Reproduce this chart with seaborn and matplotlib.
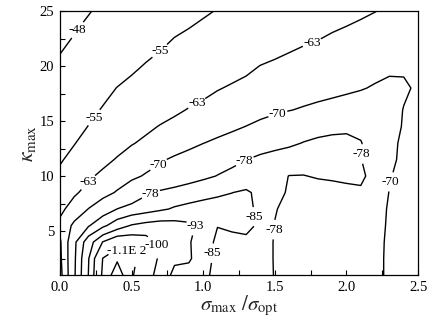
import numpy as np
import pandas as pd
import matplotlib
matplotlib.use("Agg")
import matplotlib.pyplot as plt
import seaborn as sns

# ---- data ----
sigma_ratio = [0.0, 0.1, 0.2, 0.3, 0.4, 0.5, 0.6, 0.7, 0.8, 0.9, 1.0, 1.1, 1.2,
               1.3, 1.4, 1.5, 1.6, 1.7, 1.8, 1.9, 2.0, 2.1, 2.2, 2.3, 2.4, 2.5]
kappa_max = [1, 2.5, 4, 5.5, 7, 8.5, 10, 11.5, 13, 14.5, 16, 18, 20, 22.5, 25]

k_01_0 = [-60.5, -77.0, -93.3, -111.6, -121.0, -111.0, -104.0, -96.5, -91.6, -88.7, -85.9, -83.9, -82.4,
          -80.9, -79.4, -77.85, -76.9, -75.8, -74.8, -73.7, -72.7, -71.7, -70.6, -69.6, -68.5, -67.5]
k_02_5 = [-61.5, -76.7, -92.7, -110.3, -116.0, -113.0, -104.0, -99.0, -94.0, -94.5, -86.5, -84.1, -82.5,
          -81.0, -79.4, -77.8, -76.8, -75.8, -74.8, -73.7, -72.7, -71.7, -70.6, -69.6, -68.6, -67.6]
k_04_0 = [-62.0, -76.4, -89.3, -100.3, -106.0, -105.0, -103.0, -98.9, -96.4, -94.0, -87.0, -84.2, -82.6,
          -82.5, -79.4, -77.8, -76.8, -75.8, -74.8, -73.8, -72.8, -71.7, -70.7, -69.6, -68.6, -67.6]
k_05_5 = [-64.5, -71.5, -77.4, -83.4, -89.1, -93.6, -95.5, -96.5, -96.0, -94.5, -91.0, -85.1, -86.5,
          -88.0, -82.9, -77.9, -77.0, -75.9, -74.9, -73.9, -72.9, -71.8, -70.8, -69.7, -68.7, -67.8]
k_07_0 = [-61.5, -65.7, -70.2, -74.1, -78.1, -80.0, -81.9, -83.9, -85.8, -87.0, -88.0, -88.5, -88.0,
          -87.0, -83.1, -78.2, -77.1, -76.0, -75.0, -73.9, -72.9, -71.9, -70.8, -69.8, -68.8, -67.9]
k_08_5 = [-59.0, -62.1, -65.0, -67.8, -70.6, -73.8, -77.0, -78.9, -80.1, -81.3, -82.5, -83.7, -84.9,
          -86.0, -83.2, -79.6, -77.4, -76.3, -75.5, -75.5, -75.5, -76.5, -72.0, -69.9, -68.9, -68.0]
k_10_0 = [-56.0, -59.0, -62.0, -64.4, -66.6, -68.7, -70.6, -72.1, -73.6, -75.2, -76.7, -78.2, -79.5,
          -80.5, -80.5, -79.5, -77.9, -77.8, -78.5, -79.0, -80.0, -80.0, -74.2, -70.2, -69.1, -68.2]
k_11_5 = [-54.5, -56.4, -58.8, -61.2, -63.5, -65.5, -67.4, -69.3, -70.9, -72.3, -73.7, -75.1, -76.5,
          -77.9, -79.5, -80.5, -81.0, -81.0, -81.0, -81.0, -80.5, -78.2, -74.6, -70.8, -69.2, -68.4]
k_13_0 = [-53.4, -54.8, -56.7, -58.7, -60.6, -62.6, -64.1, -65.6, -67.0, -68.4, -69.9, -71.1, -72.3,
          -73.5, -74.7, -75.9, -77.0, -78.2, -79.0, -79.3, -79.3, -78.3, -74.9, -71.0, -69.3, -68.5]
k_14_5 = [-52.4, -53.7, -55.1, -56.8, -58.4, -60.1, -61.8, -63.3, -64.4, -65.6, -66.7, -67.8, -68.9,
          -70.1, -71.5, -73.0, -74.2, -75.2, -76.0, -76.7, -77.0, -76.5, -74.5, -72.0, -69.6, -68.8]
k_16_0 = [-51.4, -52.7, -54.0, -55.3, -56.6, -58.0, -59.4, -60.7, -62.1, -63.3, -64.2, -65.2, -66.1,
          -67.0, -68.0, -68.9, -69.8, -70.6, -71.4, -72.0, -72.5, -72.5, -72.0, -71.2, -69.9, -69.2]
k_18_0 = [-50.0, -51.3, -52.5, -53.8, -55.1, -56.1, -57.2, -58.3, -59.4, -60.5, -61.6, -62.7, -63.5,
          -64.2, -64.9, -65.6, -66.3, -67.0, -67.6, -68.3, -69.0, -69.7, -70.4, -70.8, -70.4, -69.6]
k_20_0 = [-48.6, -49.7, -50.8, -52.0, -53.1, -54.2, -55.3, -56.2, -57.2, -58.2, -59.1, -60.1, -61.1,
          -62.0, -63.1, -63.8, -64.6, -65.4, -66.1, -66.8, -67.4, -68.0, -68.5, -69.3, -69.6, -69.3]
k_22_5 = [-47.2, -48.2, -49.1, -50.1, -51.1, -52.1, -53.0, -54.0, -55.1, -55.8, -56.6, -57.4, -58.1,
          -58.9, -59.7, -60.5, -61.3, -62.1, -62.8, -63.6, -64.2, -64.8, -65.4, -66.0, -66.5, -67.0]
k_25_0 = [-46.2, -47.0, -47.8, -48.7, -49.5, -50.3, -51.1, -52.0, -52.8, -53.6, -54.4, -55.2, -55.9,
          -56.6, -57.3, -58.0, -58.7, -59.4, -60.1, -60.8, -61.5, -62.2, -62.9, -63.6, -64.2, -64.8]

levels = [-117, -110, -100, -93, -85, -78, -70, -63, -55, -48]
level_text = ["", "-1.1E 2", "-100", "-93", "-85", "-78", "-70", "-63", "-55", "-48"]

# ---- figure ----
sns.set_theme(style="ticks")
plt.rcParams["font.family"] = ["Liberation Serif", "DejaVu Serif"]
plt.rcParams["mathtext.fontset"] = "stix"
plt.rcParams["contour.negative_linestyle"] = "solid"

table = pd.DataFrame([k_01_0, k_02_5, k_04_0, k_05_5, k_07_0, k_08_5, k_10_0, k_11_5,
                      k_13_0, k_14_5, k_16_0, k_18_0, k_20_0, k_22_5, k_25_0],
                     index=kappa_max, columns=sigma_ratio)

fig = plt.figure(figsize=(4.31, 3.24), dpi=100)
ax = fig.add_axes([0.139, 0.151, 0.831, 0.815])

XX, YY = np.meshgrid(table.columns.values.astype(float), table.index.values.astype(float))

label_spots = {
    -48: [(0.14, 23.1)],
    -55: [(0.24, 15.3), (0.72, 21.0)],
    -63: [(0.19, 9.5), (0.96, 16.5), (1.76, 22.1)],
    -70: [(0.68, 11.2), (1.52, 15.7), (2.30, 9.5)],
    -78: [(0.63, 8.5), (1.28, 11.6), (2.11, 12.0), (1.52, 5.1)],
    -85: [(1.36, 6.3), (1.05, 3.0)],
    -93: [(0.96, 5.4)],
    -100: [(0.66, 3.7)],
    -110: [(0.47, 3.2)],
}

for lv, tx in zip(levels, level_text):
    cs = ax.contour(XX, YY, table.values, levels=[lv], colors="black",
                    linewidths=1.0, linestyles="solid")
    spots = label_spots.get(lv)
    if spots:
        texts = ax.clabel(cs, manual=spots, fmt={lv: tx}, fontsize=9.5,
                          inline=True, inline_spacing=1, colors="black")
        for t in texts:
            t.set_rotation(0)

ax.set_xlim(0, 2.5)
ax.set_ylim(1, 25)
ax.set_xticks([0.0, 0.5, 1.0, 1.5, 2.0, 2.5])
ax.set_xticklabels(["0.0", "0.5", "1.0", "1.5", "2.0", "2.5"])
ax.set_xticks(np.arange(0.25, 2.5, 0.5), minor=True)
ax.set_yticks([5, 10, 15, 20, 25])
ax.set_yticks([2.5, 7.5, 12.5, 17.5, 22.5], minor=True)
ax.tick_params(which="both", direction="in", length=3.5, width=0.8, colors="black",
               labelsize=10.5, top=False, right=False, pad=4)
for sp in ax.spines.values():
    sp.set_visible(True)
    sp.set_linewidth(0.9)
    sp.set_color("black")

ax.set_xlabel(r"$\sigma_{\mathrm{max}}\ /\sigma_{\mathrm{opt}}$", fontsize=15, labelpad=0)
ax.set_ylabel(r"$\kappa_{\mathrm{max}}$", fontsize=15.5, labelpad=1)

fig.savefig("out.png", dpi=100)
